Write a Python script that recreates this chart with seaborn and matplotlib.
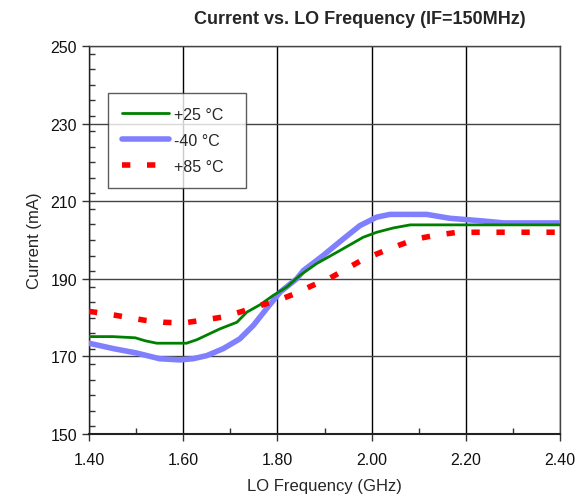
import matplotlib
matplotlib.use("Agg")
import matplotlib.pyplot as plt
import seaborn as sns
import pandas as pd
from matplotlib.ticker import MultipleLocator, FormatStrFormatter

# Data
freq_25 = [1.40, 1.45, 1.498, 1.52, 1.544, 1.607, 1.629, 1.678, 1.714, 1.735, 1.763, 1.791, 1.82,
           1.848, 1.883, 1.933, 1.982, 2.011, 2.046, 2.082, 2.20, 2.40]
cur_25 = [175.1, 175.1, 174.8, 174.0, 173.4, 173.4, 174.3, 177.1, 178.8, 181.4, 183.3, 185.7, 187.9,
          190.9, 193.9, 197.3, 200.7, 202.0, 203.1, 203.9, 203.9, 203.9]

freq_m40 = [1.40, 1.452, 1.50, 1.55, 1.593, 1.621, 1.65, 1.685, 1.72, 1.749, 1.777, 1.806, 1.841,
            1.855, 1.897, 1.94, 1.975, 2.011, 2.039, 2.117, 2.166, 2.237, 2.28, 2.40]
cur_m40 = [173.4, 172.0, 170.9, 169.4, 169.1, 169.4, 170.2, 172.0, 174.5, 178.0, 182.3, 186.6, 190.0,
           192.1, 196.0, 200.3, 203.7, 205.9, 206.6, 206.6, 205.6, 204.9, 204.4, 204.4]

freq_85 = [1.40, 1.437, 1.48, 1.519, 1.558, 1.60, 1.639, 1.682, 1.72, 1.763, 1.798, 1.834, 1.873,
           1.912, 1.947, 1.982, 2.021, 2.057, 2.096, 2.135, 2.177, 2.223, 2.40]
cur_85 = [181.6, 181.0, 180.1, 179.3, 178.8, 178.6, 179.3, 180.1, 181.4, 183.1, 184.3, 186.0, 188.2,
          190.2, 192.6, 195.0, 196.9, 198.6, 200.3, 201.2, 201.9, 202.0, 202.0]

labels = ["+25 \u00b0C", "-40 \u00b0C", "+85 \u00b0C"]
x_ticks = [1.40, 1.60, 1.80, 2.00, 2.20, 2.40]
y_ticks = [150, 170, 190, 210, 230, 250]

sns.set_theme(style="white")
plt.rcParams['font.family'] = ['Liberation Sans', 'DejaVu Sans']

fig = plt.figure(figsize=(5.87, 5.02), dpi=100)
ax = fig.add_axes([89/587, 1 - 435/502, (560-89)/587, (435-47)/502])

df25 = pd.DataFrame({"f": freq_25, "c": cur_25})
dfm40 = pd.DataFrame({"f": freq_m40, "c": cur_m40})
df85 = pd.DataFrame({"f": freq_85, "c": cur_85})

sns.lineplot(data=df25, x="f", y="c", ax=ax, color="#008000", linewidth=2, label=labels[0], zorder=4)
sns.lineplot(data=dfm40, x="f", y="c", ax=ax, color="#8080FF", linewidth=4, label=labels[1], zorder=3)
sns.lineplot(data=df85, x="f", y="c", ax=ax, color="#FF0000", linewidth=4, label=labels[2], zorder=5,
             linestyle=(0, (1.5, 3)))

ax.set_xlim(1.40, 2.40)
ax.set_ylim(150, 250)
ax.set_xticks(x_ticks)
ax.set_yticks(y_ticks)
ax.xaxis.set_major_formatter(FormatStrFormatter('%.2f'))
ax.xaxis.set_minor_locator(MultipleLocator(0.1))
ax.yaxis.set_minor_locator(MultipleLocator(4))

ax.grid(True, which="major", axis="x", color="black", linewidth=1.0)
ax.grid(True, which="major", axis="y", color="#444444", linewidth=1.0)
ax.set_axisbelow(True)

for s in ax.spines.values():
    s.set_visible(True)
    s.set_color("#444444")
    s.set_linewidth(1.0)
ax.spines["bottom"].set_color("#222222")
ax.spines["bottom"].set_linewidth(1.5)
ax.spines["left"].set_color("#222222")

ax.tick_params(axis="both", which="major", direction="out", length=5, width=1, color="#333333",
               labelsize=11.5, labelcolor="#111111", bottom=True, left=True)
ax.tick_params(axis="both", which="minor", direction="in", length=4, width=1, color="#333333",
               bottom=True, left=True)
ax.tick_params(axis="x", which="major", pad=8)

ax.set_xlabel("LO Frequency (GHz)", fontsize=12, labelpad=8)
ax.set_ylabel("Current (mA)", fontsize=12, labelpad=6)

fig.text(360/587, 1 - 20/502, "Current vs. LO Frequency (IF=150MHz)", ha="center", va="center",
         fontsize=13, fontweight="bold")

leg = ax.legend(loc="upper left", bbox_to_anchor=((108-89)/471, (435-94)/388), borderaxespad=0,
                frameon=True, fancybox=False, edgecolor="#333333", fontsize=11.5, handlelength=3.0,
                labelspacing=0.7, borderpad=0.85, handletextpad=0.3)
leg.get_frame().set_linewidth(1.0)
for t in leg.get_texts():
    t.set_text(t.get_text() + "  ")

fig.savefig("out.png", dpi=100, facecolor="white")
